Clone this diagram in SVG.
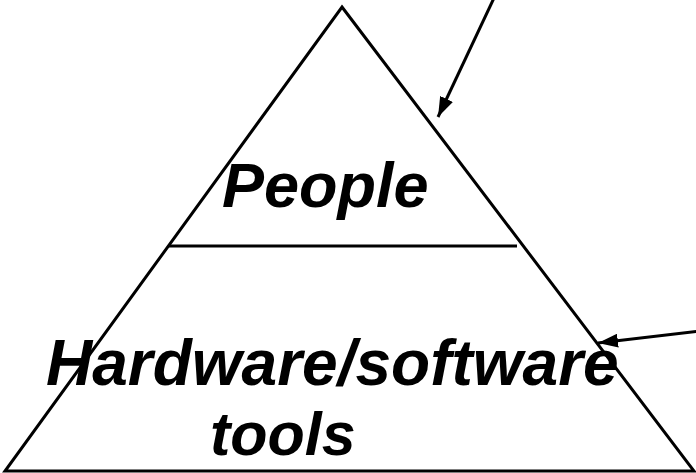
<svg xmlns="http://www.w3.org/2000/svg" width="696" height="473" viewBox="0 0 696 473">
<defs>
<style>
.ln{stroke:#000;stroke-width:3;fill:none}
.t{font-family:"Liberation Sans",Arial,sans-serif;font-weight:bold;font-style:italic;fill:#000}
</style>
<marker id="ah2" markerWidth="20" markerHeight="14" refX="20" refY="7" orient="auto" markerUnits="userSpaceOnUse" viewBox="0 0 20 14">
<path d="M0,0 L20,7 L0,14 Z" fill="#000"/>
</marker>
</defs>
<g id="pyramid">
<polygon class="ln" points="342,7 694,471 5,471"/>
</g>
<g id="divider">
<line class="ln" x1="168" y1="246" x2="517" y2="246"/>
</g>
<g id="people">
<text class="t" x="222" y="207" font-size="63">People</text>
</g>
<g id="hardware">
<text class="t" x="46" y="385" font-size="64">Hardware/software</text>
<text class="t" x="210" y="455" font-size="61">tools</text>
</g>
<g id="connectors">
<line class="ln" x1="494" y1="-2" x2="438" y2="117" marker-end="url(#ah2)"/>
<line class="ln" x1="700" y1="331" x2="598" y2="343" stroke-width="2.5" marker-end="url(#ah2)"/>
</g>
</svg>
